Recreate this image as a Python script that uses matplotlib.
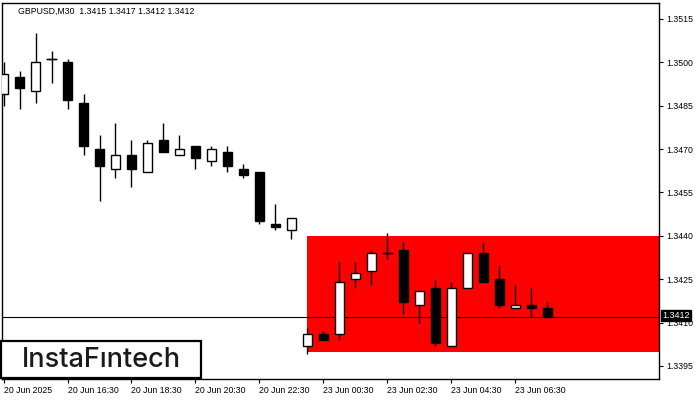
import numpy as np
import matplotlib
matplotlib.use('Agg')
import matplotlib.pyplot as plt
from matplotlib.patches import Rectangle

# GBPUSD M30 candles
opens = [1.3489, 1.3495, 1.3490, 1.3501, 1.3500, 1.3486, 1.3470, 1.3463, 1.3468, 1.3462,
         1.3473, 1.3468, 1.3471, 1.3466, 1.3469, 1.3463, 1.3462, 1.3444, 1.3442, 1.3402,
         1.3406, 1.3406, 1.3425, 1.3428, 1.3434, 1.3435, 1.3416, 1.3422, 1.3402, 1.3422,
         1.3434, 1.3425, 1.3415, 1.3416, 1.3415]
highs = [1.3500, 1.3497, 1.3510, 1.3504, 1.3501, 1.3489, 1.3475, 1.3479, 1.3473, 1.3473,
         1.3479, 1.3475, 1.3471, 1.3471, 1.3471, 1.3465, 1.3462, 1.3451, 1.3446, 1.3408,
         1.3407, 1.3431, 1.3431, 1.3435, 1.3441, 1.3438, 1.3421, 1.3425, 1.3424, 1.3434,
         1.3438, 1.3430, 1.3423, 1.3422, 1.3417]
lows = [1.3485, 1.3484, 1.3486, 1.3493, 1.3484, 1.3468, 1.3452, 1.3460, 1.3457, 1.3462,
        1.3469, 1.3468, 1.3463, 1.3464, 1.3462, 1.3460, 1.3444, 1.3442, 1.3439, 1.3399,
        1.3404, 1.3404, 1.3422, 1.3423, 1.3432, 1.3413, 1.3410, 1.3402, 1.3402, 1.3422,
        1.3424, 1.3415, 1.3415, 1.3412, 1.3412]
closes = [1.3496, 1.3491, 1.3500, 1.3501, 1.3487, 1.3471, 1.3464, 1.3468, 1.3463, 1.3472,
          1.3469, 1.3470, 1.3467, 1.3470, 1.3464, 1.3461, 1.3445, 1.3443, 1.3446, 1.3406,
          1.3404, 1.3424, 1.3427, 1.3434, 1.3434, 1.3417, 1.3421, 1.3403, 1.3422, 1.3434,
          1.3424, 1.3416, 1.3416, 1.3415, 1.3412]

xtick_pos = [0, 4, 8, 12, 16, 20, 24, 28, 32]
xtick_labels = ['20 Jun 2025', '20 Jun 16:30', '20 Jun 18:30', '20 Jun 20:30', '20 Jun 22:30',
                '23 Jun 00:30', '23 Jun 02:30', '23 Jun 04:30', '23 Jun 06:30']
yticks = [1.3395, 1.3410, 1.3425, 1.3440, 1.3455, 1.3470, 1.3485, 1.3500, 1.3515]

zone_start = 19
zone_low, zone_high = 1.3400, 1.3440
last_price = 1.3412
title = 'GBPUSD,M30  1.3415 1.3417 1.3412 1.3412'

plt.rcParams['font.family'] = ['Liberation Sans', 'DejaVu Sans']

fig = plt.figure(figsize=(7, 4), dpi=100)
ax = fig.add_axes([2/700, 21/400, 657/700, 376/400])
xmax = 40.97
ax.set_xlim(-0.094, xmax)
ax.set_ylim(1.33905, 1.35205)

# red pattern zone
ax.add_patch(Rectangle((zone_start, zone_low), xmax - zone_start, zone_high - zone_low,
                       facecolor='#ff0000', edgecolor='none', zorder=0))
ax.axhline(last_price, color='black', lw=0.8, zorder=1)

x = np.arange(len(opens))
o = np.array(opens); c = np.array(closes)
ax.vlines(x, lows, highs, color='black', lw=1, zorder=2)
up = c >= o
bottoms = np.minimum(o, c)
heights = np.abs(c - o)
ax.bar(x[up], heights[up], bottom=bottoms[up], width=0.62, color='white',
       edgecolor='black', lw=1, zorder=3)
ax.bar(x[~up], heights[~up], bottom=bottoms[~up], width=0.62, color='black',
       edgecolor='black', lw=1, zorder=3)
# doji crosses
for i in range(len(x)):
    if heights[i] < 0.00005:
        ax.hlines(o[i], x[i] - 0.34, x[i] + 0.34, color='black', lw=1, zorder=3)

ax.yaxis.tick_right()
ax.set_yticks(yticks)
ax.set_yticklabels(['%.4f' % v for v in yticks])
ax.set_xticks(xtick_pos)
ax.set_xticklabels(xtick_labels, ha='left')
ax.tick_params(axis='both', length=3, width=0.8, labelsize=6.3, colors='black', pad=2)
for s in ax.spines.values():
    s.set_linewidth(1)

# last price label
fig.text(662/700, 1 - 315.5/400, '1.3412', color='white', fontsize=6.5, va='center', ha='left',
         bbox=dict(boxstyle='square,pad=0.15', facecolor='black', edgecolor='black'))

fig.text(18/700, 1 - 11/400, title, fontsize=6.3, va='center', ha='left')

# logo
fig.patches.append(Rectangle((1/700, 22/400), 200/700, 37/400, transform=fig.transFigure,
                             facecolor='white', edgecolor='black', lw=1.6, zorder=5))
fig.text(101/700, 1 - 367/400, 'InstaF\u0131ntech', fontsize=19.5, ha='center', va='baseline',
         color='#1a1a1a', family=['Inter', 'DejaVu Sans'], weight='medium', zorder=6)

fig.savefig('out.png', dpi=100)
